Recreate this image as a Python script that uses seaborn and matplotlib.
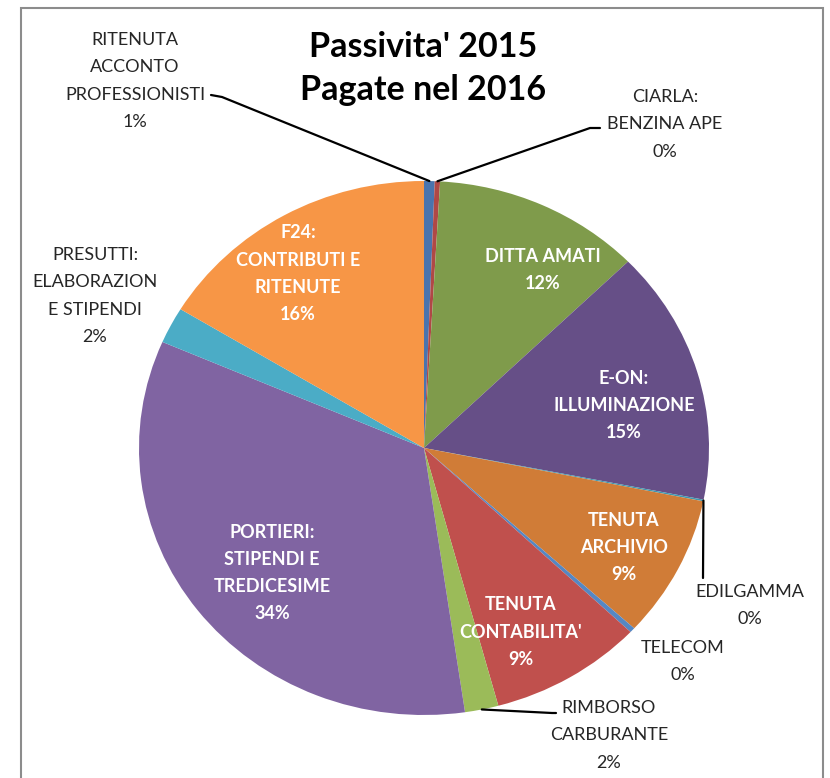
import numpy as np
import matplotlib.pyplot as plt
import seaborn as sns
from matplotlib.patches import Rectangle

# data, clockwise from 12 o'clock
categories = ["RITENUTA\nACCONTO\nPROFESSIONISTI", "CIARLA:\nBENZINA APE", "DITTA AMATI",
              "E-ON:\nILLUMINAZIONE", "EDILGAMMA", "TENUTA\nARCHIVIO", "TELECOM",
              "TENUTA\nCONTABILITA'", "RIMBORSO\nCARBURANTE", "PORTIERI:\nSTIPENDI E\nTREDICESIME",
              "PRESUTTI:\nELABORAZION\nE STIPENDI", "F24:\nCONTRIBUTI E\nRITENUTE"]
shares = [0.6, 0.3, 11.8, 15.4, 0.1, 8.6, 0.3, 8.7, 1.9, 33.8, 2.2, 16.3]
colors = ["#4A74AE", "#B04846", "#7F9B4B", "#664F87", "#3E97AF", "#D07C37",
          "#5587C3", "#C0504D", "#9BBB59", "#8064A2", "#4BACC6", "#F79646"]

# layout (pixel positions of label centres, first line), text colour, leader line
W, H = 830, 778
CX, CY, RX, RY = 424, 448, 285, 267
label_pos = [(135, 40), (665, 97), (543, 256), (624, 378), (750, 592), (624, 520),
             (683, 648), (521, 605), (609, 708), (272, 532), (95, 255), (298, 233)]
inside = [False, False, True, True, False, True, False, True, False, True, False, True]
leaders = {0: [(222, 97), (211, 95)], 1: [(590, 128), (600, 128)],
           4: [(703, 578)], 8: [(552, 713), (556, 713)]}

sns.set_theme(style="white")
plt.rcParams['font.family'] = ['Lato', 'DejaVu Sans']

fig = plt.figure(figsize=(W / 100, H / 100), dpi=100)
ax = fig.add_axes([0, 0, 1, 1])

wedges, _ = ax.pie(shares, colors=colors, startangle=90, counterclock=False,
                   wedgeprops=dict(linewidth=0))
ax.set_aspect('auto')
ax.set_xlim(-CX / RX, (W - CX) / RX)
ax.set_ylim((CY - H) / RY, CY / RY)
ax.axis('off')


def to_data(px, py):
    return (px - CX) / RX, (CY - py) / RY


line_h = 27.3
for i, (lab, v) in enumerate(zip(categories, shares)):
    txt = lab + "\n" + "{:.0f}%".format(round(v))
    lines = txt.split("\n")
    px, py = label_pos[i]
    for k, ln in enumerate(lines):
        x, y = to_data(px, py + k * line_h)
        if inside[i]:
            ax.text(x, y, ln, ha='center', va='center', fontsize=13,
                    color='white', fontweight='bold')
        else:
            ax.text(x, y, ln, ha='center', va='center', fontsize=13,
                    color='#262626')

# leader lines from the wedge edge
for i, pts in leaders.items():
    w = wedges[i]
    mid = np.deg2rad((w.theta1 + w.theta2) / 2)
    xs = [np.cos(mid)]
    ys = [np.sin(mid)]
    for p in pts:
        x, y = to_data(*p)
        xs.append(x)
        ys.append(y)
    ax.plot(xs, ys, color='black', lw=1.6)

# title
tx, ty = to_data(423, 47)
ax.text(tx, ty, "Passivita' 2015", ha='center', va='center', fontsize=24.5,
        fontweight='bold', color='black')
tx, ty = to_data(423, 90)
ax.text(tx, ty, "Pagate nel 2016", ha='center', va='center', fontsize=24.5,
        fontweight='bold', color='black')

# chart frame
fig.patches.append(Rectangle((21 / W, -0.05), 802 / W, 1.05 - 8 / H,
                             transform=fig.transFigure, fill=False,
                             edgecolor='#8c8c8c', lw=1.5))

fig.savefig('out.png', dpi=100)
